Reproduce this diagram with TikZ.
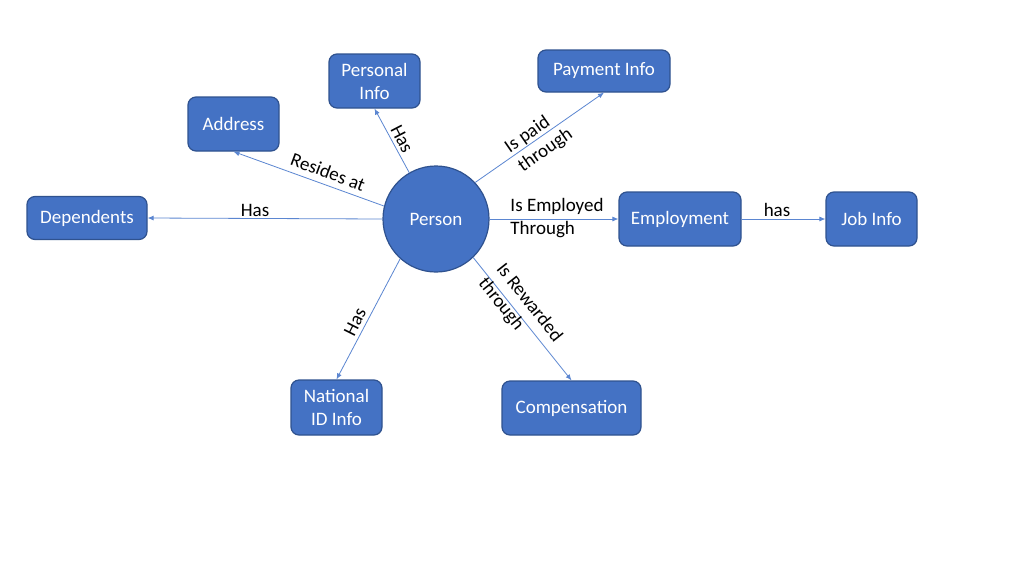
\documentclass[tikz,border=0pt]{standalone}
\usepackage{fontspec}
\setmainfont{Carlito}
\usetikzlibrary{arrows.meta}
\definecolor{boxfill}{HTML}{4472C4}
\definecolor{boxline}{HTML}{2F528F}
\definecolor{conn}{HTML}{5B86D1}
\begin{document}
\begin{tikzpicture}[x=1pt,y=-1pt,
  font=\fontsize{19}{23}\selectfont,
  box/.style={draw=boxline, line width=1.2pt, fill=boxfill, rounded corners=8pt,
    text=white, align=center, inner sep=0pt},
  conn/.style={draw=conn, line width=0.8pt, -{Latex[length=6pt,width=5pt]}},
  lab/.style={text=black, align=left, inner sep=1pt}]
\useasboundingbox (0,0) rectangle (1024,576);
\fill[white] (0,0) rectangle (1024,576);

\node[draw=boxline, line width=1.2pt, fill=boxfill, circle, minimum size=106pt,
  text=white, inner sep=0pt] (person) at (436,219) {Person};
\node[box, minimum width=91pt, minimum height=54pt] (personal) at (374.5,81) {Personal\\Info};
\node[box, minimum width=91pt, minimum height=54pt] (address) at (233.5,124) {Address};
\node[box, minimum width=132pt, minimum height=42pt] (payment) at (604,71) {Payment Info};
\node[box, minimum width=120pt, minimum height=43pt] (dependents) at (87,218) {Dependents};
\node[box, minimum width=122pt, minimum height=54pt] (employment) at (680,219) {Employment};
\node[box, minimum width=91pt, minimum height=54pt] (jobinfo) at (871.5,219) {Job Info};
\node[box, minimum width=91pt, minimum height=55pt] (national) at (336.5,407.5) {National\\ID Info};
\node[box, minimum width=139pt, minimum height=54pt] (compensation) at (571.5,408) {Compensation};

\draw[conn] (person.166) -- (address.south);
\draw[conn] (person.120) -- (personal.south);
\draw[conn] (person.43) -- (payment.south);
\draw[conn] (person.west) -- (dependents.east);
\draw[conn] (person.east) -- (employment.west);
\draw[conn] (employment.east) -- (jobinfo.west);
\draw[conn] (person.-132) -- (national.north);
\draw[conn] (person.-46) -- (compensation.north);

\node[lab, rotate=-20.3] (lresides) at (328,172) {Resides at};
\node[lab, rotate=-62.7] (lhaspers) at (402,139) {Has};
\node[lab] (lhasdep) at (255,210) {Has};
\node[lab, rotate=34.7] (lpaid) at (539,141) {Is paid\\through};
\node[lab] (lemployed) at (557,218) {Is Employed\\Through};
\node[lab] (lhasjob) at (777,210) {has};
\node[lab, rotate=63.4] (lhasnat) at (355,322) {Has};
\node[lab, rotate=-51.6] (lreward) at (520,310) {Is Rewarded\\through};
\end{tikzpicture}
\end{document}
